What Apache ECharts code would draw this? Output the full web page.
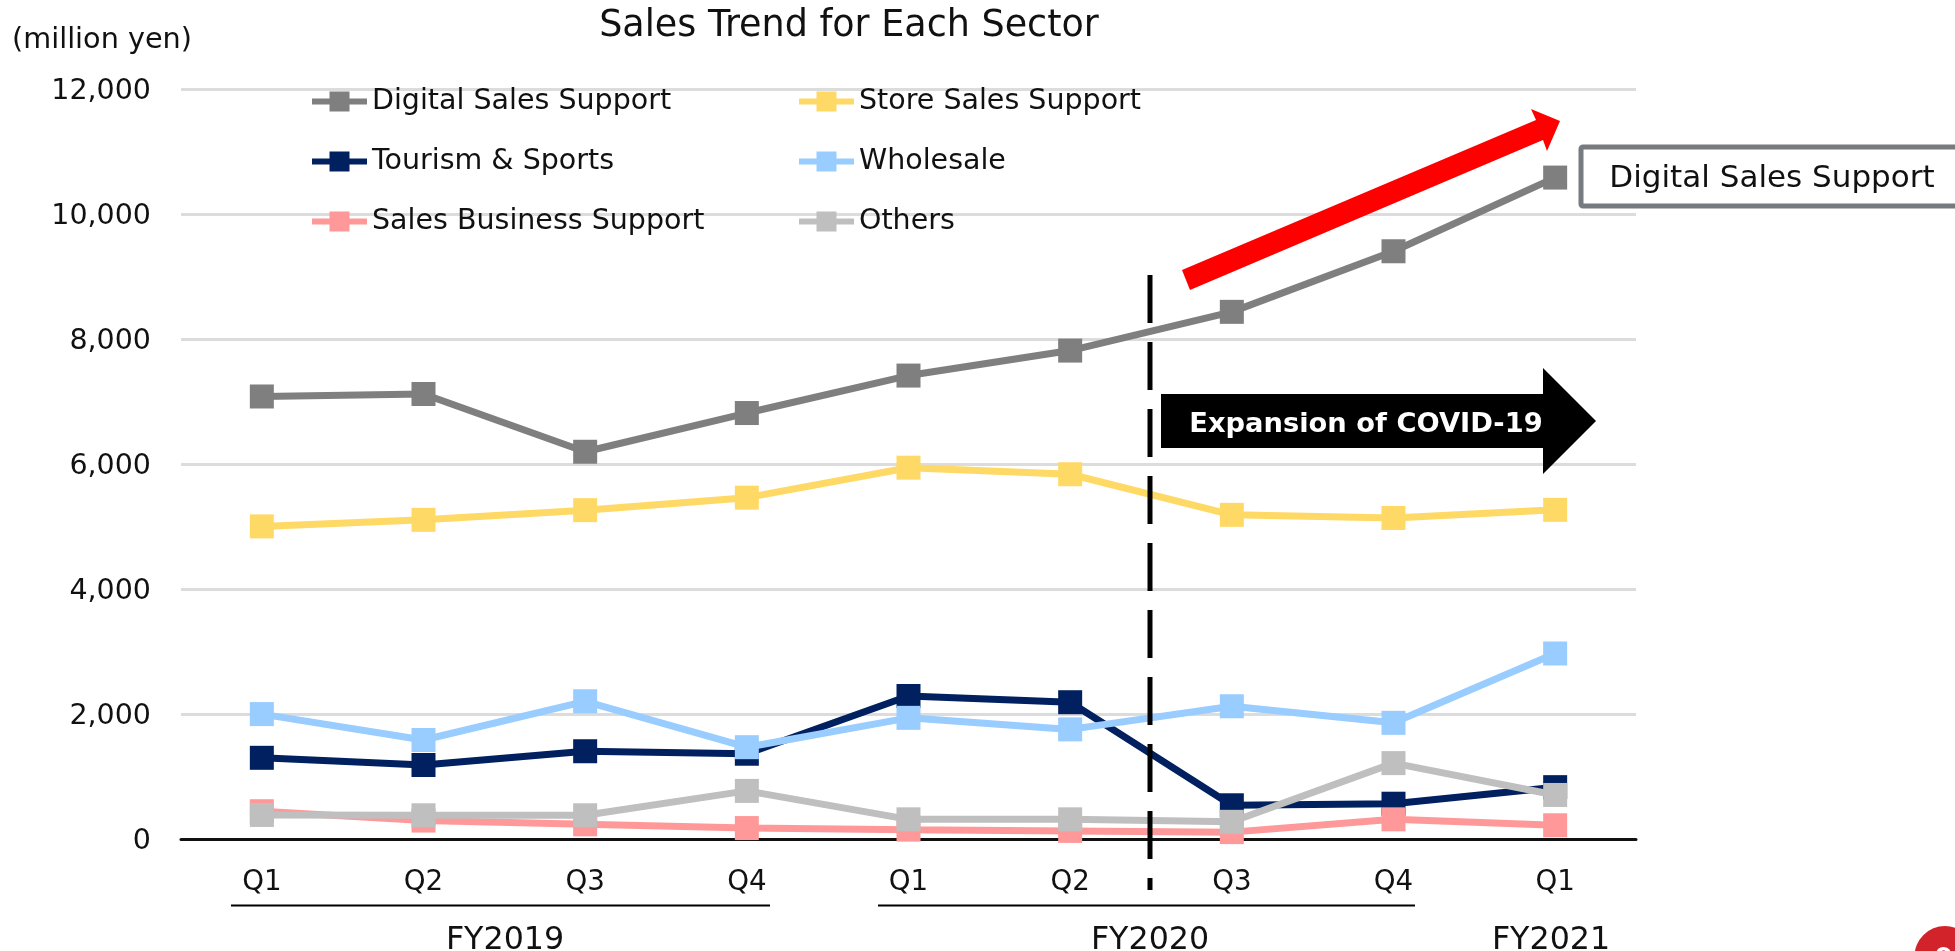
<!DOCTYPE html>
<html>
<head>
<meta charset="utf-8">
<title>Sales Trend for Each Sector</title>
<script src="https://cdn.jsdelivr.net/npm/echarts@6/dist/echarts.min.js"></script>
<style>
  html, body { margin: 0; padding: 0; background: #fff; overflow: hidden; }
  #chart { width: 1955px; height: 951px; }
</style>
</head>
<body>
<div id="chart"></div>
<script>
// Quarterly sales per sector, million yen
const quarters = ['Q1', 'Q2', 'Q3', 'Q4', 'Q1', 'Q2', 'Q3', 'Q4', 'Q1'];
const digitalSalesSupport = [7085, 7125, 6200, 6820, 7420, 7820, 8440, 9410, 10590];
const storeSalesSupport = [5005, 5110, 5265, 5465, 5945, 5840, 5190, 5140, 5270];
const tourismAndSports = [1300, 1185, 1405, 1365, 2290, 2190, 540, 565, 830];
const wholesale = [2000, 1585, 2205, 1470, 1940, 1755, 2125, 1860, 2970];
const salesBusinessSupport = [445, 295, 235, 175, 150, 130, 110, 315, 220];
const others = [385, 380, 380, 770, 315, 315, 275, 1215, 705];

const yTicks = { min: 0, max: 12000, interval: 2000 };
const fiscalYears = [
  { label: 'FY2019', x: 505 },
  { label: 'FY2020', x: 1150 },
  { label: 'FY2021', x: 1551 }
];
const fiscalRules = [[231, 770], [878, 1415]];

const FONT = '"DejaVu Sans", Verdana, sans-serif';
const TEXT = '#111';

const sectors = [
  { name: 'Digital Sales Support', color: '#7f7f7f', data: digitalSalesSupport },
  { name: 'Store Sales Support', color: '#ffd966', data: storeSalesSupport },
  { name: 'Tourism & Sports', color: '#002060', data: tourismAndSports },
  { name: 'Wholesale', color: '#99ccff', data: wholesale },
  { name: 'Sales Business Support', color: '#ff9999', data: salesBusinessSupport },
  { name: 'Others', color: '#bfbfbf', data: others }
];

function legendColumn(left, names) {
  return {
    orient: 'vertical',
    left: left,
    top: 87,
    padding: 0,
    itemWidth: 55,
    itemHeight: 25,
    itemGap: 31,
    selectedMode: false,
    data: names,
    lineStyle: { width: 6 },
    textStyle: { fontFamily: FONT, fontSize: 28.5, color: TEXT }
  };
}

function plainText(x, y, text, size, extra) {
  return {
    type: 'text',
    x: x,
    y: y,
    z: 20,
    style: Object.assign({
      text: text,
      fontFamily: FONT,
      fontSize: size,
      fill: TEXT,
      align: 'center',
      verticalAlign: 'middle'
    }, extra || {})
  };
}

const annotations = [
  // Start of the COVID-19 period
  {
    type: 'line',
    z: 15,
    shape: { x1: 1150, y1: 275, x2: 1150, y2: 890 },
    style: { stroke: '#000', lineWidth: 5, lineDash: [48, 19] }
  },
  // Growth arrow above the digital sector
  {
    type: 'polygon',
    z: 16,
    shape: { points: [[1182, 270], [1536, 120], [1531, 109], [1560, 121], [1547, 151], [1543, 140], [1190, 290]] },
    style: { fill: '#ff0000' }
  },
  // Period arrow
  {
    type: 'polygon',
    z: 16,
    shape: { points: [[1161, 394], [1543, 394], [1543, 368], [1596, 421], [1543, 474], [1543, 448], [1161, 448]] },
    style: { fill: '#000' }
  },
  plainText(1366, 425, 'Expansion of COVID-19', 27.3, { fill: '#fff', fontWeight: 'bold' }),
  // Callout naming the top line
  {
    type: 'rect',
    z: 16,
    shape: { x: 1581, y: 147, width: 400, height: 59, r: 2 },
    style: { fill: '#fff', stroke: '#767b7f', lineWidth: 5 }
  },
  plainText(1772, 179, 'Digital Sales Support', 31),
  plainText(102, 41, '(million yen)', 28.7),
  // Page badge
  {
    type: 'circle',
    z: 16,
    shape: { cx: 1945, cy: 956.5, r: 30.5 },
    style: { fill: '#d2232a' }
  },
  plainText(1944, 960, '9', 26, { fill: '#fff', fontWeight: 'bold' })
];

fiscalRules.forEach(function (r) {
  annotations.push({
    type: 'line',
    z: 15,
    shape: { x1: r[0], y1: 905.5, x2: r[1], y2: 905.5 },
    style: { stroke: '#000', lineWidth: 2 }
  });
});
fiscalYears.forEach(function (f) {
  annotations.push(plainText(f.x, 941, f.label, 31.7));
});

const chart = echarts.init(document.getElementById('chart'), null, { renderer: 'canvas' });
chart.setOption({
  animation: false,
  backgroundColor: '#fff',
  title: {
    text: 'Sales Trend for Each Sector',
    left: 849,
    top: 8.5,
    padding: 0,
    textAlign: 'center',
    textStyle: { fontFamily: FONT, fontSize: 36.5, fontWeight: 'normal', color: TEXT }
  },
  legend: [
    legendColumn(309, ['Digital Sales Support', 'Tourism & Sports', 'Sales Business Support']),
    legendColumn(796, ['Store Sales Support', 'Wholesale', 'Others'])
  ],
  grid: { left: 181, right: 319, top: 89.5, height: 749.5, containLabel: false },
  xAxis: {
    type: 'category',
    data: quarters,
    boundaryGap: true,
    axisLine: { show: true, onZero: true, lineStyle: { color: '#111', width: 3 } },
    axisTick: { show: false },
    axisLabel: { margin: 30, interval: 0, fontFamily: FONT, fontSize: 27.7, color: TEXT }
  },
  yAxis: {
    type: 'value',
    min: yTicks.min,
    max: yTicks.max,
    interval: yTicks.interval,
    axisLine: { show: false },
    axisTick: { show: false },
    axisLabel: {
      margin: 30,
      formatter: function (v) { return '{tick|' + v.toLocaleString('en-US') + '}'; },
      rich: {
        tick: { fontFamily: FONT, fontSize: 28.5, color: TEXT, padding: [5, 0, 0, 0] }
      }
    },
    splitLine: { lineStyle: { color: '#dcdcdc', width: 3 } }
  },
  series: sectors.map(function (s, i) {
    return {
      name: s.name,
      type: 'line',
      data: s.data,
      z: 3 + i,
      symbol: 'rect',
      symbolSize: 24,
      showSymbol: true,
      clip: false,
      lineStyle: { color: s.color, width: 7 },
      itemStyle: { color: s.color, borderWidth: 0 }
    };
  }),
  graphic: annotations
});
</script>
</body>
</html>
